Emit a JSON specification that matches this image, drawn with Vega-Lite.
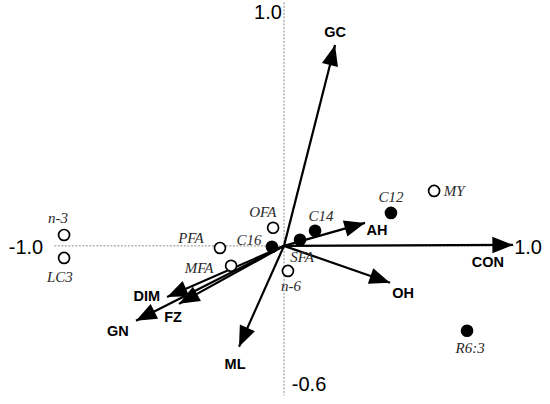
{
  "$schema": "https://vega.github.io/schema/vega-lite/v6.json",
  "width": 464,
  "height": 371,
  "autosize": {"type": "none"},
  "padding": {"left": 52, "top": 14, "right": 34, "bottom": 19},
  "background": "white",
  "config": {"view": {"stroke": null}},
  "datasets": {
    "guides": [
      {"x": -0.99, "x2": 0.99, "y": 0, "y2": 0},
      {"x": 0, "x2": 0, "y": 1.05, "y2": -0.645}
    ],
    "vectors": [
      {"name": "GC", "x0": 0, "y0": 0, "x": 0.22, "y": 0.866, "lx": 0.22, "ly": 0.918},
      {"name": "CON", "x0": 0, "y0": 0, "x": 0.987, "y": 0.004, "lx": 0.879, "ly": -0.073},
      {"name": "AH", "x0": 0, "y0": 0, "x": 0.349, "y": 0.099, "lx": 0.401, "ly": 0.065},
      {"name": "OH", "x0": 0, "y0": 0, "x": 0.457, "y": -0.159, "lx": 0.513, "ly": -0.207},
      {"name": "ML", "x0": 0, "y0": 0, "x": -0.194, "y": -0.435, "lx": -0.211, "ly": -0.513},
      {"name": "DIM", "x0": 0, "y0": 0, "x": -0.504, "y": -0.22, "lx": -0.591, "ly": -0.22},
      {"name": "FZ", "x0": 0, "y0": 0, "x": -0.453, "y": -0.25, "lx": -0.478, "ly": -0.31},
      {"name": "GN", "x0": 0, "y0": 0, "x": -0.638, "y": -0.323, "lx": -0.716, "ly": -0.371}
    ],
    "items": [
      {"name": "n-3", "kind": "open", "x": -0.948, "y": 0.047, "lx": -0.974, "ly": 0.121},
      {"name": "LC3", "kind": "open", "x": -0.948, "y": -0.052, "lx": -0.966, "ly": -0.134},
      {"name": "PFA", "kind": "open", "x": -0.276, "y": -0.009, "lx": -0.401, "ly": 0.034},
      {"name": "C16", "kind": "filled", "x": -0.052, "y": -0.004, "lx": -0.151, "ly": 0.026},
      {"name": "OFA", "kind": "open", "x": -0.047, "y": 0.078, "lx": -0.091, "ly": 0.147},
      {"name": "MFA", "kind": "open", "x": -0.228, "y": -0.086, "lx": -0.366, "ly": -0.095},
      {"name": "SFA", "kind": "filled", "x": 0.069, "y": 0.026, "lx": 0.078, "ly": -0.047},
      {"name": "n-6", "kind": "open", "x": 0.017, "y": -0.108, "lx": 0.03, "ly": -0.172},
      {"name": "C14", "kind": "filled", "x": 0.134, "y": 0.065, "lx": 0.159, "ly": 0.129},
      {"name": "C12", "kind": "filled", "x": 0.461, "y": 0.142, "lx": 0.461, "ly": 0.211},
      {"name": "MY", "kind": "open", "x": 0.647, "y": 0.237, "lx": 0.733, "ly": 0.237},
      {"name": "R6:3", "kind": "filled", "x": 0.789, "y": -0.366, "lx": 0.802, "ly": -0.44}
    ],
    "ticks": [
      {"label": "-1.0", "x": -1.112, "y": -0.009},
      {"label": "1.0", "x": 1.052, "y": -0.009},
      {"label": "1.0", "x": -0.069, "y": 1.004},
      {"label": "-0.6", "x": 0.108, "y": -0.599}
    ]
  },
  "layer": [
    {
      "data": {"name": "guides"},
      "mark": {"type": "rule", "color": "#8a8a8a", "strokeWidth": 1, "strokeDash": [2, 1.5], "clip": false},
      "encoding": {
        "x": {"field": "x", "type": "quantitative", "scale": {"domain": [-1, 1], "nice": false, "zero": false}, "axis": null},
        "x2": {"field": "x2"},
        "y": {"field": "y", "type": "quantitative", "scale": {"domain": [-0.6, 1], "nice": false, "zero": false}, "axis": null},
        "y2": {"field": "y2"}
      }
    },
    {
      "data": {"name": "vectors"},
      "mark": {"type": "rule", "color": "black", "strokeWidth": 2.2},
      "encoding": {
        "x": {"field": "x0", "type": "quantitative"},
        "y": {"field": "y0", "type": "quantitative"},
        "x2": {"field": "x"},
        "y2": {"field": "y"}
      }
    },
    {
      "data": {"name": "vectors"},
      "transform": [{"calculate": "atan2(datum.x, datum.y) * 180 / PI", "as": "ang"}],
      "mark": {"type": "point", "shape": "M0,0 L-0.4,1 L0.4,1 Z", "filled": true, "color": "black", "opacity": 1, "size": 1700},
      "encoding": {
        "x": {"field": "x", "type": "quantitative"},
        "y": {"field": "y", "type": "quantitative"},
        "angle": {"field": "ang", "type": "quantitative", "scale": {"domain": [0, 360], "range": [0, 360]}}
      }
    },
    {
      "data": {"name": "vectors"},
      "mark": {"type": "text", "font": "Liberation Sans", "fontWeight": "bold", "fontSize": 14.5, "color": "black", "align": "center", "baseline": "middle"},
      "encoding": {
        "x": {"field": "lx", "type": "quantitative"},
        "y": {"field": "ly", "type": "quantitative"},
        "text": {"field": "name"}
      }
    },
    {
      "data": {"name": "items"},
      "mark": {"type": "point", "shape": "circle", "size": 120, "strokeWidth": 1.7, "stroke": "black", "opacity": 1},
      "encoding": {
        "x": {"field": "x", "type": "quantitative"},
        "y": {"field": "y", "type": "quantitative"},
        "fill": {"field": "kind", "type": "nominal", "scale": {"domain": ["open", "filled"], "range": ["white", "black"]}, "legend": null}
      }
    },
    {
      "data": {"name": "items"},
      "mark": {"type": "text", "font": "Liberation Serif", "fontStyle": "italic", "fontSize": 15, "color": "#2a2a2a", "align": "center", "baseline": "middle"},
      "encoding": {
        "x": {"field": "lx", "type": "quantitative"},
        "y": {"field": "ly", "type": "quantitative"},
        "text": {"field": "name"}
      }
    },
    {
      "data": {"name": "ticks"},
      "mark": {"type": "text", "font": "Liberation Sans", "fontSize": 20, "color": "black", "align": "center", "baseline": "middle", "clip": false},
      "encoding": {
        "x": {"field": "x", "type": "quantitative"},
        "y": {"field": "y", "type": "quantitative"},
        "text": {"field": "label"}
      }
    }
  ]
}
